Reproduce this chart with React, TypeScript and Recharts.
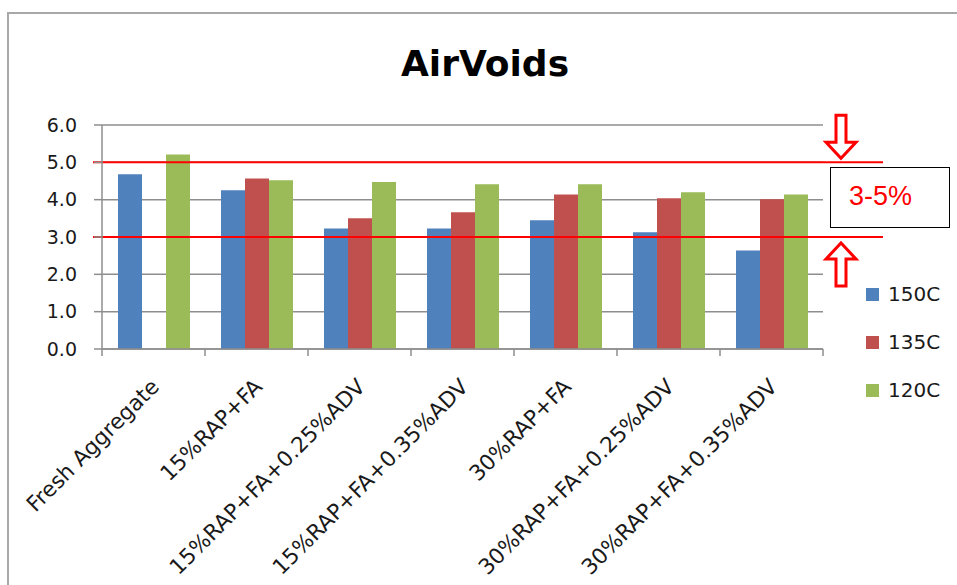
import { BarChart, Bar, XAxis, YAxis, CartesianGrid, ReferenceLine } from "recharts";

const categories = [
  "Fresh Aggregate",
  "15%RAP+FA",
  "15%RAP+FA+0.25%ADV",
  "15%RAP+FA+0.35%ADV",
  "30%RAP+FA",
  "30%RAP+FA+0.25%ADV",
  "30%RAP+FA+0.35%ADV",
];
const temp150 = [4.68, 4.25, 3.23, 3.23, 3.45, 3.13, 2.64];
const temp135 = [null, 4.57, 3.5, 3.66, 4.14, 4.04, 4.01];
const temp120 = [5.21, 4.52, 4.47, 4.41, 4.41, 4.2, 4.14];
const seriesNames = ["150C", "135C", "120C"];
const seriesKeys = ["t150", "t135", "t120"];
const seriesColors = ["#4f81bd", "#c0504d", "#9bbb59"];
const yTicks = [0, 1, 2, 3, 4, 5, 6];
const limitLow = 3;
const limitHigh = 5;

const data = categories.map((name, i) => ({
  name,
  t150: temp150[i],
  t135: temp135[i],
  t120: temp120[i],
}));

const W = 957;
const H = 585;
const margin = { top: 125, right: 134, left: 40, bottom: 0 };
const yAxisWidth = 62;
const plotWidth = W - margin.left - margin.right - yAxisWidth;
const step = plotWidth / categories.length;

const FONT = "'DejaVu Sans', sans-serif";
const GRID = "#8e8e8e";
const RED = "#ff0000";

function CategoryTick(props: any) {
  const { x, y, payload, index } = props;
  const left = x - step / 2;
  const right = x + step / 2;
  return (
    <g>
      <line x1={left} y1={y} x2={left} y2={y + 7} stroke={GRID} strokeWidth={1.5} />
      {index === categories.length - 1 && (
        <line x1={right} y1={y} x2={right} y2={y + 7} stroke={GRID} strokeWidth={1.5} />
      )}
      <text
        x={x + 7}
        y={y + 39}
        transform={`rotate(-45 ${x + 7} ${y + 39})`}
        textAnchor="end"
        fontSize={21.6}
        fontFamily={FONT}
        fill="#1a1a1a"
      >
        {payload.value}
      </text>
    </g>
  );
}

// hollow block arrow, pointing down (dir=1) or up (dir=-1) to the tip
function arrowPath(cx: number, tip: number, dir: number) {
  const len = 43;
  const head = 16;
  const shaft = 5;
  const wing = 15;
  const base = tip - dir * len;
  const neck = tip - dir * head;
  return `M${cx - shaft},${base} L${cx + shaft},${base} L${cx + shaft},${neck} L${cx + wing},${neck} L${cx},${tip} L${cx - wing},${neck} L${cx - shaft},${neck} Z`;
}

function LimitLine(props: any, dir: number) {
  const { x1, x2, y1 } = props;
  const cx = x2 + 18;
  const tip = dir === 1 ? y1 - 4 : y1 + 6;
  return (
    <g>
      <line x1={x1 - 9} y1={y1} x2={x2 + 60} y2={y1} stroke={RED} strokeWidth={2} />
      <path d={arrowPath(cx, tip, dir)} fill="#fff" stroke={RED} strokeWidth={3} />
    </g>
  );
}

function SeriesLegend() {
  return (
    <div
      style={{
        position: "absolute",
        left: 866,
        top: 270,
        fontFamily: FONT,
        fontSize: 20,
        color: "#1a1a1a",
      }}
    >
      {seriesNames.map((name, i) => (
        <div key={name} style={{ display: "flex", alignItems: "center", height: 48 }}>
          <span style={{ width: 13, height: 13, background: seriesColors[i], marginRight: 9 }} />
          {name}
        </div>
      ))}
    </div>
  );
}

export default function App() {
  return (
    <div style={{ position: "absolute", left: 0, top: 0, width: W, height: H, background: "#fff", overflow: "hidden" }}>
      <div
        style={{
          position: "absolute",
          left: 7,
          top: 12,
          width: W,
          height: H,
          borderLeft: "2px solid #a8a8a8",
          borderTop: "2px solid #a8a8a8",
        }}
      />
      <div
        style={{
          position: "absolute",
          left: 0,
          width: 970,
          top: 43,
          textAlign: "center",
          fontFamily: FONT,
          fontWeight: "bold",
          fontSize: 36,
          color: "#000",
        }}
      >
        AirVoids
      </div>
      <div style={{ position: "absolute", left: 0, top: 0 }}>
        <BarChart width={W} height={H} data={data} margin={margin} barCategoryGap={16} barGap={0}>
          <CartesianGrid vertical={false} stroke={GRID} strokeWidth={1.5} />
          <XAxis
            dataKey="name"
            interval={0}
            height={236}
            tickSize={0}
            tickMargin={0}
            tickLine={false}
            axisLine={{ stroke: GRID, strokeWidth: 1.5 }}
            tick={<CategoryTick />}
          />
          <YAxis
            width={yAxisWidth}
            domain={[0, 6]}
            ticks={yTicks}
            tickFormatter={(v: number) => v.toFixed(1)}
            tickSize={8}
            tickMargin={17}
            tickLine={{ stroke: GRID, strokeWidth: 1.5 }}
            axisLine={{ stroke: GRID, strokeWidth: 1.5 }}
            tick={{ fontSize: 19, fontFamily: FONT, fill: "#1a1a1a" }}
          />
          {seriesKeys.map((key, i) => (
            <Bar key={key} dataKey={key} name={seriesNames[i]} fill={seriesColors[i]} isAnimationActive={false} />
          ))}
          <ReferenceLine y={limitHigh} shape={(p: any) => LimitLine(p, 1)} />
          <ReferenceLine y={limitLow} shape={(p: any) => LimitLine(p, -1)} />
        </BarChart>
      </div>
      <SeriesLegend />
      <div
        style={{
          position: "absolute",
          left: 830,
          top: 167,
          width: 120,
          height: 61,
          border: "1.5px solid #000",
          background: "#fff",
          boxSizing: "border-box",
        }}
      >
        <div
          style={{
            position: "absolute",
            left: 18,
            top: 13,
            fontFamily: "'Liberation Sans', Arial, sans-serif",
            fontSize: 27,
            color: RED,
            lineHeight: "30px",
          }}
        >
          3-5%
        </div>
      </div>
    </div>
  );
}
